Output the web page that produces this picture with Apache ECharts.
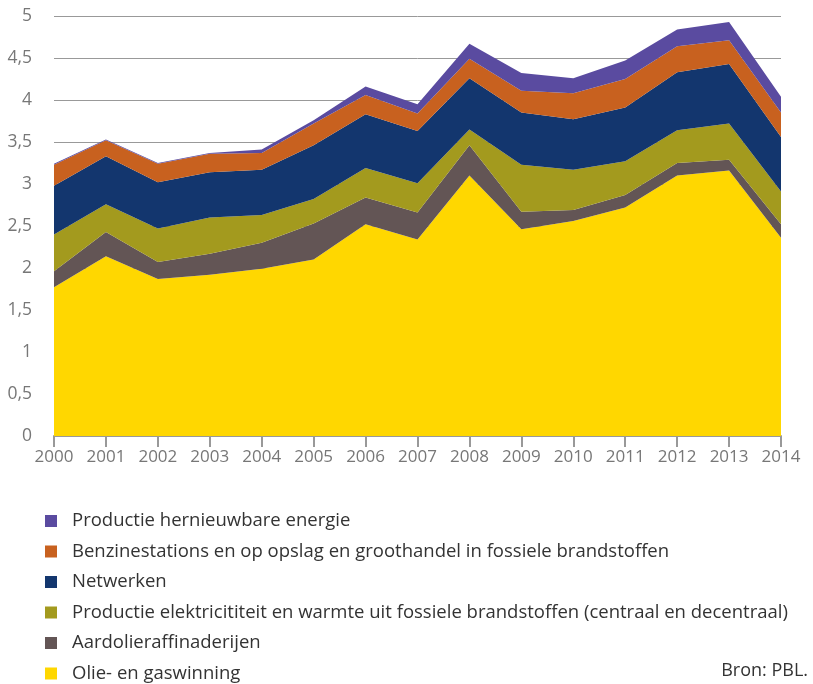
<!DOCTYPE html>
<html>
<head>
<meta charset="utf-8">
<script src="https://cdn.jsdelivr.net/npm/echarts@6/dist/echarts.min.js"></script>
<style>
	html, body { margin: 0; padding: 0; background: #fff; }
	#chart { width: 813px; height: 684px; }
</style>
</head>
<body>
<div id="chart"></div>
<script>
	// jaren
	const years = ['2000', '2001', '2002', '2003', '2004', '2005', '2006', '2007',
		'2008', '2009', '2010', '2011', '2012', '2013', '2014'];

	// waarden per sector (gestapeld, onder naar boven)
	const olieGas = [1.77, 2.14, 1.87, 1.92, 1.99, 2.10, 2.52, 2.34, 3.10, 2.46, 2.56, 2.72, 3.10, 3.16, 2.36];
	const raffinaderijen = [0.19, 0.29, 0.20, 0.25, 0.31, 0.43, 0.32, 0.32, 0.36, 0.21, 0.13, 0.15, 0.15, 0.13, 0.16];
	const elektriciteit = [0.44, 0.33, 0.40, 0.43, 0.33, 0.29, 0.35, 0.35, 0.19, 0.56, 0.48, 0.40, 0.39, 0.43, 0.39];
	const netwerken = [0.58, 0.57, 0.55, 0.54, 0.54, 0.64, 0.64, 0.62, 0.61, 0.62, 0.60, 0.64, 0.69, 0.71, 0.65];
	const benzine = [0.25, 0.19, 0.22, 0.22, 0.20, 0.26, 0.23, 0.21, 0.23, 0.26, 0.31, 0.34, 0.31, 0.28, 0.29];
	const hernieuwbaar = [0.01, 0.01, 0.01, 0.01, 0.04, 0.04, 0.10, 0.11, 0.18, 0.21, 0.18, 0.22, 0.20, 0.22, 0.19];

	const names = [
		'Olie- en gaswinning',
		'Aardolieraffinaderijen',
		'Productie elektricititeit en warmte uit fossiele brandstoffen (centraal en decentraal)',
		'Netwerken',
		'Benzinestations en op opslag en groothandel in fossiele brandstoffen',
		'Productie hernieuwbare energie'
	];
	const values = [olieGas, raffinaderijen, elektriciteit, netwerken, benzine, hernieuwbaar];
	const colors = ['#ffd700', '#635555', '#a39a1e', '#13366e', '#c8611f', '#5a4ba0'];

	const font = 'Open Sans';
	const chart = echarts.init(document.getElementById('chart'));

	const series = names.map((name, i) => ({
		name: name,
		type: 'line',
		stack: 'totaal',
		data: values[i],
		symbol: 'none',
		lineStyle: { width: 0 },
		areaStyle: { color: colors[i], opacity: 1 },
		itemStyle: { color: colors[i] }
	}));

	chart.setOption({
		animation: false,
		textStyle: { fontFamily: font },
		grid: { left: 54, right: 32, top: 16, bottom: 248, containLabel: false },
		legend: {
			data: names.slice().reverse(),
			orient: 'vertical',
			left: 45,
			top: 511,
			height: 180,
			padding: 0,
			icon: 'rect',
			itemWidth: 12,
			itemHeight: 12,
			itemGap: 10.5,
			selectedMode: false,
			textStyle: { color: '#333', fontSize: 18.5, lineHeight: 20, fontFamily: font, padding: [0, 0, 0, 10] }
		},
		xAxis: {
			type: 'category',
			data: years,
			boundaryGap: false,
			axisLine: { lineStyle: { color: '#999', width: 2 } },
			axisTick: { show: true, interval: 0, length: 11, lineStyle: { color: '#999', width: 2 } },
			axisLabel: { color: '#777', fontSize: 17, margin: 13, interval: 0 },
			splitLine: { show: false }
		},
		yAxis: {
			type: 'value',
			min: 0,
			max: 5,
			interval: 0.5,
			axisLine: { show: false },
			axisTick: { show: false },
			axisLabel: {
				color: '#777',
				fontSize: 17.5,
				margin: 22,
				formatter: v => String(v).replace('.', ',')
			},
			splitLine: { lineStyle: { color: '#999', width: 1 } }
		},
		graphic: [{
			type: 'text',
			right: 5,
			top: 662,
			style: { text: 'Bron: PBL.', fill: '#333', font: '18px "' + font + '"' }
		}],
		series: series
	});
</script>
</body>
</html>
